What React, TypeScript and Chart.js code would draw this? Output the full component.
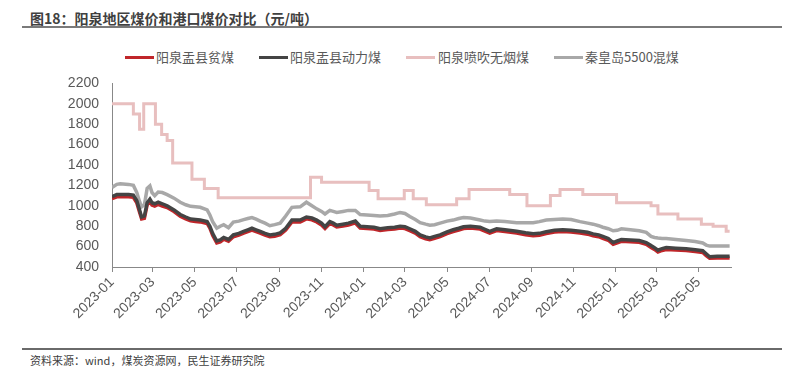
import React, { useEffect, useRef } from "react";
import { Chart, registerables } from "chart.js";

Chart.register(...registerables);

const titleText = "图18：阳泉地区煤价和港口煤价对比（元/吨）";
const sourceText = "资料来源：wind，煤炭资源网，民生证券研究院";

const seriesNames = ["阳泉盂县贫煤", "阳泉盂县动力煤", "阳泉喷吹无烟煤", "秦皇岛5500混煤"];
const seriesColors = ["#C0262A", "#444444", "#E8BFBF", "#A8A8A8"];

const xTickLabels = [
  "2023-01", "2023-03", "2023-05", "2023-07", "2023-09", "2023-11",
  "2024-01", "2024-03", "2024-05", "2024-07", "2024-09", "2024-11",
  "2025-01", "2025-03", "2025-05",
];
const xStart = "2023-01-01";
const xEnd = "2025-06-17";
const yMin = 400;
const yMax = 2200;
const yStep = 200;

// shared dates for the three continuous series
const dates = [
  "2023-01-01", "2023-01-08", "2023-01-13", "2023-01-25",
  "2023-02-01", "2023-02-06", "2023-02-10", "2023-02-13", "2023-02-17", "2023-02-21", "2023-02-25", "2023-02-28",
  "2023-03-04", "2023-03-09", "2023-03-15", "2023-03-22",
  "2023-04-01", "2023-04-10", "2023-04-18", "2023-04-25",
  "2023-05-02", "2023-05-09", "2023-05-19", "2023-05-23", "2023-05-27",
  "2023-06-02", "2023-06-07", "2023-06-12", "2023-06-19", "2023-06-26",
  "2023-07-04", "2023-07-11", "2023-07-17", "2023-07-23", "2023-07-29",
  "2023-08-04", "2023-08-11", "2023-08-18", "2023-08-25",
  "2023-09-02", "2023-09-10", "2023-09-19",
  "2023-10-01", "2023-10-10", "2023-10-18", "2023-10-25",
  "2023-11-01", "2023-11-06", "2023-11-13", "2023-11-18", "2023-11-23",
  "2023-12-02", "2023-12-10", "2023-12-20", "2023-12-27",
  "2024-01-06", "2024-01-16", "2024-01-25",
  "2024-02-05", "2024-02-15", "2024-02-23",
  "2024-03-01", "2024-03-08", "2024-03-16", "2024-03-23", "2024-03-31",
  "2024-04-06", "2024-04-13", "2024-04-21",
  "2024-05-01", "2024-05-10", "2024-05-18", "2024-05-25",
  "2024-06-04", "2024-06-18", "2024-06-25",
  "2024-07-02", "2024-07-12", "2024-07-24",
  "2024-08-10", "2024-08-23",
  "2024-09-03", "2024-09-12", "2024-09-22",
  "2024-10-04", "2024-10-16", "2024-10-28",
  "2024-11-10", "2024-11-21", "2024-11-29",
  "2024-12-07", "2024-12-13", "2024-12-21", "2024-12-28",
  "2025-01-03", "2025-01-09", "2025-01-22",
  "2025-02-04", "2025-02-14", "2025-02-21", "2025-02-26",
  "2025-03-03", "2025-03-09", "2025-03-15", "2025-03-29",
  "2025-04-13", "2025-04-26",
  "2025-05-07", "2025-05-12", "2025-05-17", "2025-05-28",
  "2025-06-10", "2025-06-15",
];

const pinmeiValues = [
  1070, 1088, 1088, 1088,
  1083, 1028, 938, 872, 878, 1008, 1043, 1008,
  998, 1013, 998, 983,
  943, 898, 872, 852,
  847, 842, 827, 782, 712,
  637, 647, 672, 652, 697,
  712, 732, 747, 762, 747,
  732, 712, 697, 702,
  717, 762, 842,
  842, 872, 862, 842,
  812, 777, 827, 812, 792,
  802, 812, 832, 782,
  777, 772, 757,
  767, 772, 782,
  777, 757, 732, 697, 677,
  667, 682, 697,
  727, 747, 762, 777,
  782, 772, 752,
  732, 757, 747,
  732, 717,
  707, 712, 727,
  742, 747, 742,
  732, 722, 707,
  697, 682, 662, 622,
  637, 652, 647,
  642, 622, 592, 572,
  547, 562, 572, 567,
  562, 552,
  542, 512, 487, 488,
  488, 488,
];

const donglimeiValues = [
  1090, 1110, 1110, 1110,
  1105, 1050, 960, 890, 900, 1030, 1065, 1030,
  1020, 1035, 1020, 1000,
  960, 915, 890, 870,
  865, 860, 845, 800, 730,
  655, 665, 690, 670, 715,
  730, 750, 765, 780, 765,
  750, 730, 715, 720,
  735, 780, 860,
  860, 890, 880, 860,
  830, 795, 845, 830, 810,
  820, 830, 850, 800,
  795, 790, 775,
  785, 790, 800,
  795, 775, 750, 715, 695,
  685, 700, 715,
  745, 765, 780, 795,
  800, 790, 770,
  750, 775, 765,
  750, 735,
  725, 730, 745,
  760, 765, 760,
  750, 740, 725,
  715, 700, 680, 640,
  655, 670, 665,
  660, 640, 610, 590,
  565, 580, 590, 585,
  580, 570,
  560, 530, 500, 505,
  505, 505,
];

const qhdValues = [
  1180, 1210, 1215, 1210,
  1200, 1130, 1040, 990, 1010, 1170, 1195, 1130,
  1100, 1135, 1130, 1110,
  1075, 1035, 1010, 995,
  990, 985, 960, 910, 845,
  780, 800, 815, 785, 840,
  850, 865, 875, 885, 870,
  850, 830, 805, 815,
  830, 900, 985,
  990, 1035, 1000, 970,
  945, 920, 955, 945, 935,
  945, 955, 955, 915,
  910, 905, 900,
  905, 920, 935,
  925, 895, 865, 835, 820,
  810, 815, 830,
  850, 860, 875, 885,
  880, 860, 850,
  845, 850, 845,
  835, 835,
  835, 845, 860,
  865, 870, 865,
  845, 830, 820,
  805, 790, 775, 755,
  760, 775, 765,
  755, 740, 700, 690,
  685, 680, 680, 670,
  660, 650,
  635, 615, 605, 605,
  605, 605,
];

// stepped series: date of each change and the new price from that date
const wuyanmeiDates = [
  "2023-01-01", "2023-02-01", "2023-02-10", "2023-02-16", "2023-03-05", "2023-03-14",
  "2023-03-22", "2023-03-30", "2023-04-27", "2023-05-15", "2023-06-04", "2023-10-16",
  "2023-11-01", "2024-01-09", "2024-01-22", "2024-02-29", "2024-03-13", "2024-04-01",
  "2024-05-15", "2024-06-02", "2024-07-31", "2024-08-25", "2024-09-28", "2024-10-12",
  "2024-11-14", "2025-01-02", "2025-02-21", "2025-03-03", "2025-04-01", "2025-05-05",
  "2025-05-22", "2025-06-10", "2025-06-15",
];
const wuyanmeiValues = [
  2000, 1900, 1750, 2000, 1800, 1700,
  1640, 1420, 1260, 1170, 1080, 1280,
  1230, 1150, 1070, 1150, 1070, 1010,
  1070, 1160, 1110, 1000, 1100, 1160,
  1110, 1030, 1000, 920, 870, 820,
  800, 750, 750,
];

const dayOf = (s: string) => {
  const [y, m, d] = s.split("-").map(Number);
  const [y0, m0, d0] = xStart.split("-").map(Number);
  return Math.round((Date.UTC(y, m - 1, d) - Date.UTC(y0, m0 - 1, d0)) / 86400000);
};
const toPoints = (ds: string[], vs: number[]) => ds.map((d, i) => ({ x: dayOf(d), y: vs[i] }));

const FONT_CJK = '"Noto Sans CJK SC", "Noto Sans", sans-serif';
const FONT_NUM = '"Liberation Sans", Arial, sans-serif';

export default function App() {
  const ref = useRef<HTMLCanvasElement>(null);

  useEffect(() => {
    const tickValues = xTickLabels.map((l) => dayOf(l + "-01"));
    const chart = new Chart(ref.current!, {
      type: "line",
      data: {
        datasets: [
          {
            label: seriesNames[0],
            data: toPoints(dates, pinmeiValues),
            borderColor: seriesColors[0],
            borderWidth: 3.5,
            pointRadius: 0,
            tension: 0,
            order: 1,
          },
          {
            label: seriesNames[1],
            data: toPoints(dates, donglimeiValues),
            borderColor: seriesColors[1],
            borderWidth: 3.5,
            pointRadius: 0,
            tension: 0,
            order: 0,
          },
          {
            label: seriesNames[2],
            data: toPoints(wuyanmeiDates, wuyanmeiValues),
            borderColor: seriesColors[2],
            borderWidth: 3,
            pointRadius: 0,
            stepped: true,
            order: 3,
          },
          {
            label: seriesNames[3],
            data: toPoints(dates, qhdValues),
            borderColor: seriesColors[3],
            borderWidth: 3.5,
            pointRadius: 0,
            tension: 0,
            order: 2,
          },
        ],
      },
      options: {
        responsive: false,
        animation: false,
        devicePixelRatio: 1,
        layout: { padding: { top: 16, right: 69, left: 0, bottom: 0 } },
        plugins: {
          legend: { display: false },
          tooltip: { enabled: false },
          title: { display: false },
        },
        scales: {
          x: {
            type: "linear",
            min: 0,
            max: dayOf(xEnd),
            afterBuildTicks: (scale: any) => {
              scale.ticks = tickValues.map((v) => ({ value: v }));
            },
            afterFit: (scale: any) => {
              scale.height = 78;
            },
            grid: {
              drawOnChartArea: false,
              drawTicks: true,
              tickLength: 5,
              color: "#888888",
            },
            border: { display: true, color: "#888888", width: 1 },
            ticks: {
              autoSkip: false,
              maxRotation: 45,
              minRotation: 45,
              padding: 2,
              color: "#595959",
              font: { family: FONT_NUM, size: 14 },
              callback: (v: any) => {
                const i = tickValues.indexOf(Number(v));
                return i >= 0 ? xTickLabels[i] : "";
              },
            },
          },
          y: {
            min: yMin,
            max: yMax,
            afterFit: (scale: any) => {
              scale.width = 112;
            },
            grid: { drawOnChartArea: false, drawTicks: false },
            border: { display: true, color: "#888888", width: 1 },
            ticks: {
              stepSize: yStep,
              padding: 13,
              color: "#595959",
              font: { family: FONT_NUM, size: 14 },
              callback: (v: any) => String(v),
            },
          },
        },
      },
    });
    return () => chart.destroy();
  }, []);

  const legendMarkerX = [125, 259, 406, 554];
  const legendTextX = [156, 290, 438, 585];

  return (
    <div
      style={{
        position: "absolute",
        left: 0,
        top: 0,
        width: 800,
        height: 370,
        background: "#ffffff",
        fontFamily: FONT_CJK,
        overflow: "hidden",
      }}
    >
      <div
        style={{
          position: "absolute",
          left: 30,
          top: 9,
          fontSize: 14,
          lineHeight: "18px",
          fontWeight: 700,
          color: "#404040",
          whiteSpace: "nowrap",
        }}
      >
        {titleText}
      </div>
      <div style={{ position: "absolute", left: 22, top: 26, width: 760, height: 2, background: "#7a7a7a" }} />

      {seriesNames.map((name, i) => (
        <React.Fragment key={name}>
          <div
            style={{
              position: "absolute",
              left: legendMarkerX[i],
              top: 56,
              width: 29,
              height: 3,
              background: seriesColors[i],
            }}
          />
          <div
            style={{
              position: "absolute",
              left: legendTextX[i],
              top: 49,
              fontSize: 13,
              lineHeight: "16px",
              color: "#595959",
              whiteSpace: "nowrap",
            }}
          >
            {name}
          </div>
        </React.Fragment>
      ))}

      <div style={{ position: "absolute", left: 0, top: 62, width: 800, height: 283 }}>
        <canvas ref={ref} width={800} height={283} style={{ display: "block", width: 800, height: 283 }} />
      </div>

      <div style={{ position: "absolute", left: 22, top: 348, width: 760, height: 2, background: "#6a6a6a" }} />
      <div
        style={{
          position: "absolute",
          left: 30,
          top: 353,
          fontSize: 11,
          lineHeight: "14px",
          color: "#404040",
          whiteSpace: "nowrap",
        }}
      >
        {sourceText}
      </div>
    </div>
  );
}
